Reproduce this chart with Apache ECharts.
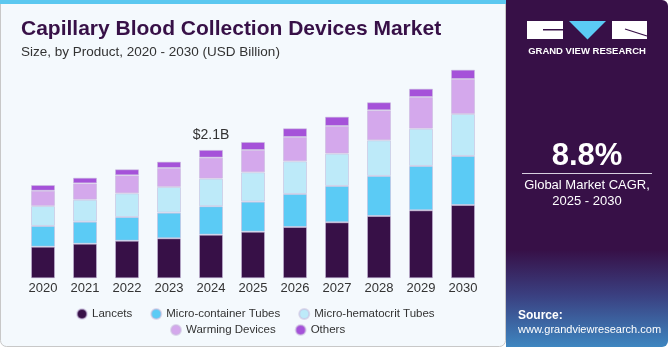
<!DOCTYPE html>
<html><head><meta charset="utf-8">
<script src="https://cdn.jsdelivr.net/npm/echarts@6/dist/echarts.min.js"></script>
<style>html,body{margin:0;padding:0;background:#fff}#c{width:670px;height:350px}</style>
</head><body><div id="c"></div>
<script>
const years = ['2020','2021','2022','2023','2024','2025','2026','2027','2028','2029','2030'];
const lancets = [0.517,0.566,0.615,0.655,0.714,0.763,0.840,0.917,1.020,1.113,1.200];
const microContainer = [0.339,0.360,0.388,0.419,0.465,0.491,0.540,0.594,0.655,0.725,0.802];
const microHematocrit = [0.327,0.360,0.388,0.421,0.452,0.481,0.535,0.529,0.584,0.610,0.687];
const warming = [0.250,0.268,0.295,0.311,0.344,0.365,0.398,0.453,0.491,0.519,0.573];
const others = [0.093,0.092,0.098,0.103,0.126,0.131,0.142,0.152,0.131,0.136,0.152];
const seriesNames = ['Lancets','Micro-container Tubes','Micro-hematocrit Tubes','Warming Devices','Others'];
const colors = ['#371047','#5BCBF5','#BDEAF9','#D4A8EC','#A552D9'];
const highlightIndex = 4;
const highlightText = '$2.1B';

const chart = echarts.init(document.getElementById('c'), null, {renderer:'canvas'});
const dataSets = [lancets, microContainer, microHematocrit, warming, others];
const font = 'Liberation Sans, Arial, sans-serif';
const series = dataSets.map((d,i)=>({
  name: seriesNames[i], type:'bar', stack:'t', barWidth:24,
  itemStyle:{color:colors[i], borderColor:'rgba(200,185,220,0.55)', borderWidth:1},
  data: d.map((v,j)=> (i===4 && j===highlightIndex) ? {value:v, label:{show:true, position:'top', distance:8, formatter:highlightText, color:'#333', fontSize:14, fontFamily:font}} : v)
}));
chart.setOption({
  animation:false,
  backgroundColor:'#ffffff',
  graphic:[
    {type:'rect', z:-10, shape:{x:0.5,y:0.5,width:505,height:346,r:[0,0,6,6]}, style:{fill:'#F4F9FD', stroke:'#c8c8c8', lineWidth:1}},
    {type:'rect', z:-9, shape:{x:0,y:0,width:506,height:4}, style:{fill:'#5BC8F0'}},
    {type:'rect', z:-9, shape:{x:506,y:0,width:162,height:347,r:[0,6,6,0]}, style:{fill:new echarts.graphic.LinearGradient(0,0,0,1,[{offset:0,color:'#371047'},{offset:0.72,color:'#371047'},{offset:0.85,color:'#3A3F80'},{offset:1,color:'#3E86C0'}])}},
    {type:'rect', shape:{x:527,y:21,width:36,height:18}, style:{fill:'#ffffff'}},
    {type:'rect', shape:{x:543,y:29,width:20,height:1.5}, style:{fill:'#371047'}},
    {type:'polygon', shape:{points:[[569,21],[606,21],[587.5,39.5]]}, style:{fill:'#5BCBF5'}},
    {type:'rect', shape:{x:612,y:21,width:35,height:18}, style:{fill:'#ffffff'}},
    {type:'line', shape:{x1:625,y1:29,x2:647,y2:36}, style:{stroke:'#371047', lineWidth:1.3}},
    {type:'text', style:{x:587,y:51,text:'GRAND VIEW RESEARCH', fill:'#ffffff', font:'bold 9.5px '+font, align:'center', verticalAlign:'middle'}},
    {type:'text', style:{x:587,y:156,text:'8.8%', fill:'#ffffff', font:'bold 31px '+font, align:'center', verticalAlign:'middle'}},
    {type:'line', shape:{x1:522,y1:173.5,x2:652,y2:173.5}, style:{stroke:'#d8d0e0', lineWidth:1}},
    {type:'text', style:{x:587,y:185,text:'Global Market CAGR,', fill:'#ffffff', font:'13px '+font, align:'center', verticalAlign:'middle'}},
    {type:'text', style:{x:587,y:201,text:'2025 - 2030', fill:'#ffffff', font:'13px '+font, align:'center', verticalAlign:'middle'}},
    {type:'text', style:{x:518,y:316,text:'Source:', fill:'#ffffff', font:'bold 12px '+font, align:'left', verticalAlign:'middle'}},
    {type:'text', style:{x:518,y:330,text:'www.grandviewresearch.com', fill:'#ffffff', font:'11px '+font, align:'left', verticalAlign:'middle'}}
  ],
  title:[
    {text:'Capillary Blood Collection Devices Market', left:16, top:14, textStyle:{color:'#371047', fontSize:21, fontWeight:'bold', fontFamily:font}},
    {text:'Size, by Product, 2020 - 2030 (USD Billion)', left:16, top:40, textStyle:{color:'#333', fontSize:13.5, fontWeight:'normal', fontFamily:font}}
  ],
  legend:[
    {data:seriesNames.slice(0,3), left:71, top:303, icon:'circle', itemWidth:10, itemHeight:10, itemGap:18, textStyle:{color:'#333', fontSize:11.5, fontFamily:font}},
    {data:seriesNames.slice(3), left:165, top:319, icon:'circle', itemWidth:10, itemHeight:10, itemGap:19, textStyle:{color:'#333', fontSize:11.5, fontFamily:font}}
  ],
  grid:{left:22, right:186, top:64.45, bottom:71.7, containLabel:false},
  xAxis:{type:'category', data:years, axisLine:{show:false}, axisTick:{show:false}, axisLabel:{color:'#333', fontSize:13, margin:4, fontFamily:font}},
  yAxis:{type:'value', min:0, max:3.5, show:false, splitLine:{show:false}},
  series
});
</script></body></html>
